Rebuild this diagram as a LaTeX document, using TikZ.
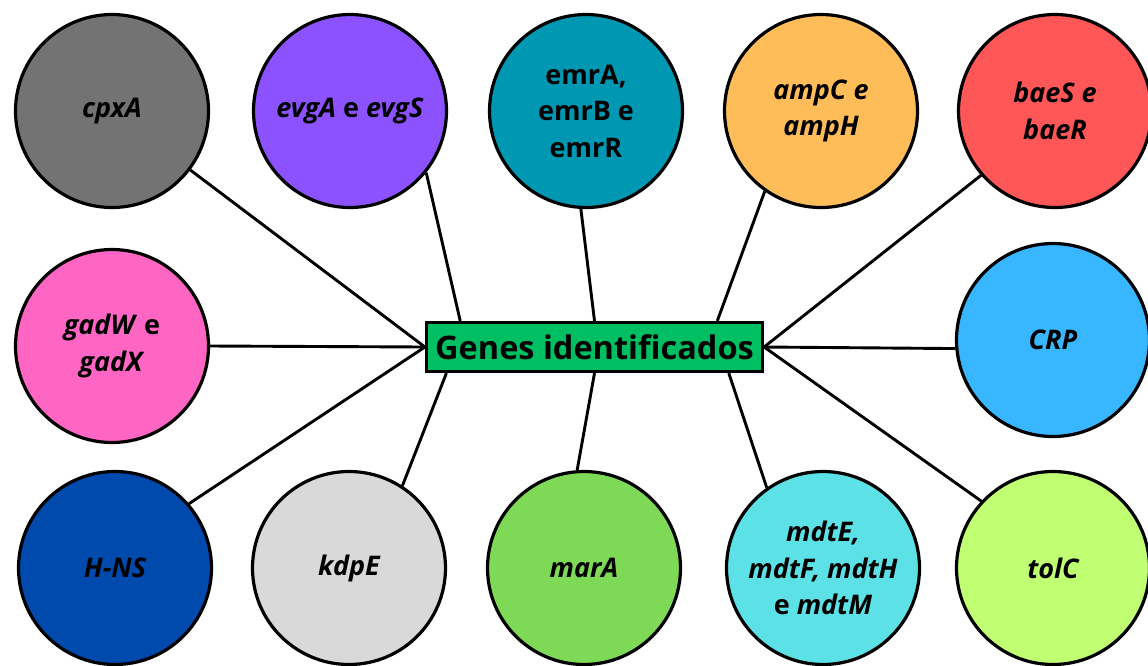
\documentclass[tikz,border=0pt]{standalone}
\usepackage{fontspec}
\setmainfont{Open Sans}

\definecolor{cpxcol}{HTML}{737373}
\definecolor{evgcol}{HTML}{8C52FF}
\definecolor{emrcol}{HTML}{0097B2}
\definecolor{ampcol}{HTML}{FFBD59}
\definecolor{baecol}{HTML}{FF5757}
\definecolor{gadcol}{HTML}{FF66C4}
\definecolor{crpcol}{HTML}{38B6FF}
\definecolor{hnscol}{HTML}{004AAD}
\definecolor{kdpcol}{HTML}{D9D9D9}
\definecolor{marcol}{HTML}{7ED957}
\definecolor{mdtcol}{HTML}{5CE1E6}
\definecolor{tolcol}{HTML}{C1FF72}
\definecolor{boxcol}{HTML}{00BF63}

\begin{document}
\begin{tikzpicture}[x=1pt, y=1pt,
    gene/.style={circle, draw=black, line width=3.2pt, minimum size=193pt, inner sep=0pt,
        align=center, font=\fontsize{27}{36.5}\selectfont\bfseries},
    hub/.style={rectangle, draw=black, line width=3.2pt, fill=boxcol, minimum width=336pt,
        minimum height=49pt, inner sep=0pt, font=\fontsize{32.5}{36}\selectfont\bfseries},
    link/.style={line width=2.9pt}]
    % Define variables for the three rows
    \def\ya{-111}
    \def\yb{-346}
    \def\yc{-568}

    \useasboundingbox (0,0) rectangle (1148,-665);

    % Centre
    \node[hub] (genes) at (594.5,-347) {Genes identificados};

    % Top row
    \node[gene, fill=cpxcol] (cpx) at (112,\ya) {\itshape cpxA};
    \node[gene, fill=evgcol] (evg) at (350,\ya) {\textit{evgA} e \textit{evgS}};
    \node[gene, fill=emrcol] (emr) at (586,\ya) {emrA,\\emrB e\\emrR};
    \node[gene, fill=ampcol] (amp) at (821,\ya) {\itshape ampC e\\\itshape ampH};
    \node[gene, fill=baecol] (bae) at (1055,\ya) {\itshape baeS e\\\itshape baeR};

    % Middle row
    \node[gene, fill=gadcol] (gad) at (112,\yb) {\textit{gadW} e\\\textit{gadX}};
    \node[gene, fill=crpcol] (crp) at (1053,-340) {\itshape CRP};

    % Bottom row
    \node[gene, fill=hnscol] (hns) at (115,\yc) {\itshape H-NS};
    \node[gene, fill=kdpcol] (kdp) at (349,\yc) {\itshape kdpE};
    \node[gene, fill=marcol] (mar) at (584,\yc) {\itshape marA};
    \node[gene, fill=mdtcol] (mdt) at (823,\yc) {\textit{mdtE,}\\\textit{mdtF, mdtH}\\e \textit{mdtM}};
    \node[gene, fill=tolcol] (tol) at (1053,\yc) {\itshape tolC};

    % Links
    \draw[link] (genes.west) -- (cpx.-37);
    \draw[link] (genes.169) -- (evg.-39);
    \draw[link] (genes.north) -- (emr.-93);
    \draw[link] (genes.12.7) -- (amp.-125);
    \draw[link] (genes.east) -- (bae.-139);
    \draw[link] (genes.west) -- (gad.east);
    \draw[link] (genes.east) -- (crp.185);
    \draw[link] (genes.west) -- (hns.41);
    \draw[link] (genes.190.8) -- (kdp.57);
    \draw[link] (genes.south) -- (mar.94);
    \draw[link] (genes.-11.4) -- (mdt.125);
    \draw[link] (genes.east) -- (tol.137);
\end{tikzpicture}
\end{document}
